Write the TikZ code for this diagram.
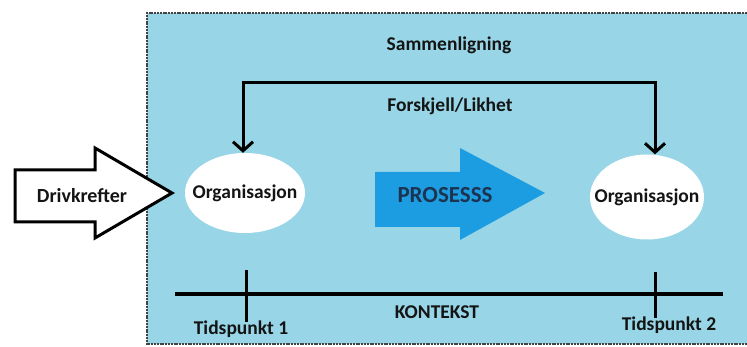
\documentclass[tikz,border=0pt]{standalone}
\usepackage{fontspec}
\setmainfont{Carlito}
\usetikzlibrary{arrows.meta,shapes.geometric}
\definecolor{panelblue}{RGB}{152,214,231}
\definecolor{procblue}{RGB}{28,157,226}
\definecolor{navy}{RGB}{28,52,82}
\definecolor{ink}{RGB}{20,20,20}
\tikzset{
  lbl/.style={font=\bfseries\fontsize{19.5}{22}\selectfont, text=ink, inner sep=0pt},
  orgshape/.style={ellipse, fill=white, draw=none, inner sep=0pt},
  framebit/.style={draw=ink!80, line width=2.5pt, dash pattern=on 2pt off 0.8pt},
  bracket/.style={draw=black, line width=3pt},
  barb/.style={-{Straight Barb[length=9pt,width=20pt,line width=3pt]}},
  tick/.style={draw=black, line width=3pt},
}
\begin{document}
\begin{tikzpicture}[x=1pt,y=-1pt]
\useasboundingbox (0,0) rectangle (747,347);
\fill[white] (0,0) rectangle (747,347);
% blue panel with rough dark border on three sides
\fill[panelblue] (147,13) rectangle (747,344);
\draw[framebit] (747,13) -- (147,13) -- (147,344) -- (747,344);

% headings
\node[lbl] (samm) at (449,45) {Sammenligning};
\node[lbl] (forsk) at (450,106) {Forskjell/Likhet};

% the two organisation states
\node[orgshape, minimum width=120pt, minimum height=80pt] (org1) at (245,193) {};
\node[lbl] (org1t) at (org1.center) {Organisasjon};
\node[orgshape, minimum width=114pt, minimum height=85pt] (org2) at (647,197) {};
\node[lbl] (org2t) at (org2.center) {Organisasjon};

% comparison bracket
\coordinate (b1) at (243,83);
\coordinate (b2) at (655,83);
\draw[bracket, barb] (b1) -- (b1 |- org1.north);
\draw[bracket, barb] (b2) -- (b2 |- org2.north);
\draw[bracket, line cap=rect] (b1) -- (b2);

% driving forces arrow (outlined)
\draw[line width=3pt, fill=white, line join=miter]
  (15,170) -- (95,170) -- (95,148) -- (172,193) -- (95,238) -- (95,222) -- (15,222) -- cycle;
\node[lbl, font=\bfseries\fontsize{20}{23}\selectfont] (drv) at (82,196) {Drivkrefter};

% process arrow
\fill[procblue] (375,172) -- (460,172) -- (460,148) -- (545,193) -- (460,240) -- (460,227) -- (375,227) -- cycle;
\node[lbl, font=\bfseries\fontsize{23}{26}\selectfont, text=navy] (proc) at (445,195) {PROSESSS};

% time line with the two time points
\coordinate (t0) at (175,294);
\coordinate (t3) at (723,294);
\draw[draw=black, line width=4pt] (t0) -- (t3);
\coordinate (k1a) at (246,270);
\coordinate (k1b) at (246,322);
\coordinate (k2a) at (655,272);
\coordinate (k2b) at (655,318);
\draw[tick] (k1a) -- (k1b);
\draw[tick] (k2a) -- (k2b);
\node[lbl] (tp1) at (241,329) {Tidspunkt 1};
\node[lbl] (tp2) at (669,325) {Tidspunkt 2};
\node[lbl] (kont) at (437,312) {KONTEKST};
\end{tikzpicture}
\end{document}
